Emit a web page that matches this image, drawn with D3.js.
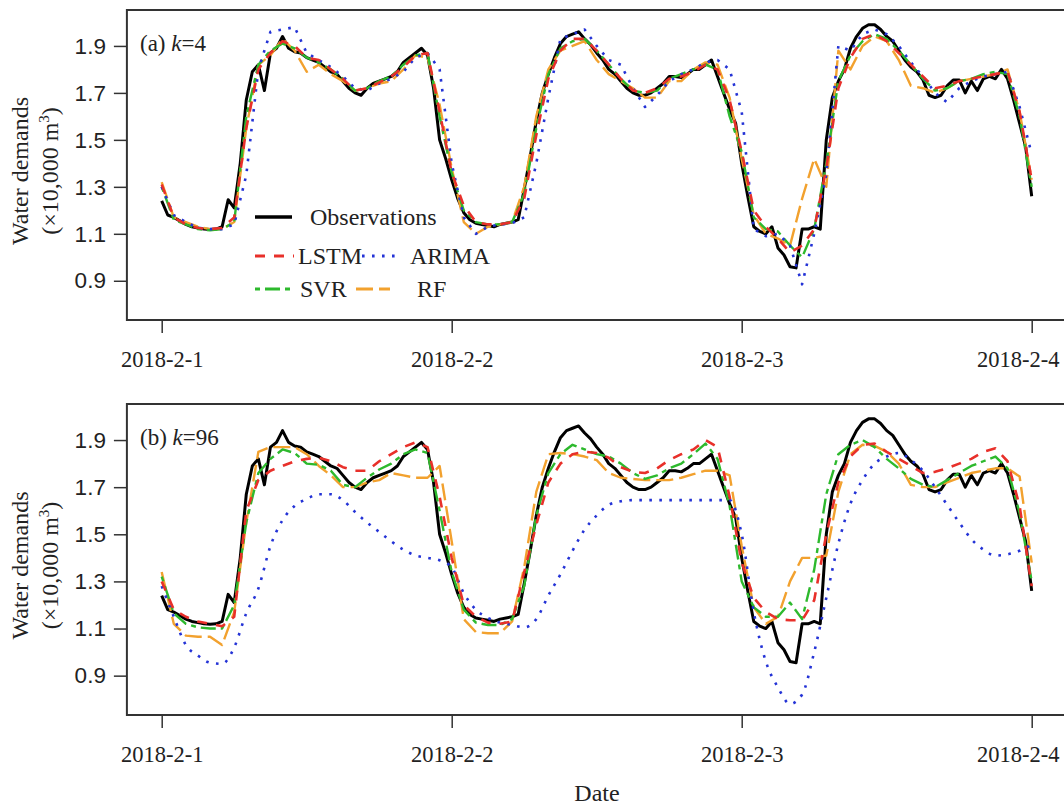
<!DOCTYPE html>
<html><head><meta charset="utf-8">
<script src="https://cdn.jsdelivr.net/npm/d3@7"></script>
<style>body{margin:0;background:#fff}</style>
</head><body>
<svg id="c" width="1064" height="807"></svg>
<script>
// ---------------- DATA ----------------
const dateLabels = ["2018-2-1","2018-2-2","2018-2-3","2018-2-4"];
const dateTickHours = [0,24,48,72];
const yTicks = [0.9,1.1,1.3,1.5,1.7,1.9];
const seriesNames = ["Observations","LSTM","ARIMA","SVR","RF"];
// observations: every 30 min from 2018-2-1 00:00
const obsStep = 0.5;
const observations = [
1.24,1.18,1.17,1.155,1.14,1.13,1.125,1.12,1.118,1.12,1.13,1.245,1.21,1.40,1.67,1.79,1.82,1.71,1.87,1.89,
1.94,1.89,1.875,1.87,1.85,1.84,1.83,1.81,1.79,1.78,1.75,1.72,1.70,1.69,1.72,1.74,1.75,1.76,1.77,1.79,
1.83,1.85,1.87,1.89,1.86,1.72,1.50,1.42,1.33,1.25,1.19,1.16,1.145,1.14,1.135,1.13,1.14,1.145,1.15,1.16,
1.29,1.43,1.58,1.70,1.78,1.85,1.91,1.94,1.95,1.96,1.93,1.905,1.87,1.84,1.80,1.78,1.75,1.72,1.70,1.69,
1.69,1.70,1.72,1.74,1.77,1.77,1.765,1.78,1.80,1.80,1.82,1.84,1.77,1.70,1.63,1.57,1.40,1.26,1.13,1.11,
1.10,1.13,1.04,1.01,0.96,0.955,1.12,1.12,1.13,1.12,1.50,1.68,1.75,1.80,1.89,1.94,1.975,1.99,1.99,1.97,
1.94,1.92,1.88,1.84,1.81,1.79,1.755,1.69,1.68,1.69,1.73,1.755,1.755,1.70,1.75,1.71,1.76,1.77,1.76,1.80,
1.76,1.67,1.57,1.47,1.26];
// model predictions: hourly
const modelStep = 1;
// (a) k=4
const lstmA = [1.31,1.17,1.14,1.125,1.12,1.125,1.17,1.55,1.80,1.87,1.92,1.90,1.85,1.84,1.80,1.76,1.71,1.72,1.745,1.77,
1.81,1.86,1.87,1.62,1.36,1.22,1.15,1.14,1.14,1.15,1.25,1.52,1.76,1.88,1.93,1.93,1.88,1.82,1.76,1.71,
1.70,1.72,1.76,1.77,1.79,1.82,1.80,1.67,1.45,1.20,1.13,1.08,1.02,1.05,1.12,1.38,1.72,1.85,1.93,1.95,
1.92,1.87,1.82,1.77,1.72,1.73,1.75,1.76,1.77,1.78,1.79,1.62,1.33];
const arimaA = [1.30,1.18,1.15,1.125,1.12,1.12,1.14,1.35,1.80,1.96,1.97,1.98,1.87,1.84,1.81,1.77,1.72,1.71,1.74,1.76,
1.79,1.85,1.87,1.80,1.40,1.17,1.10,1.13,1.14,1.145,1.17,1.40,1.68,1.93,1.95,1.97,1.90,1.84,1.82,1.72,
1.64,1.69,1.75,1.78,1.80,1.83,1.84,1.80,1.62,1.12,1.09,1.10,1.05,0.885,1.10,1.35,1.90,1.88,1.95,1.97,
1.95,1.90,1.83,1.77,1.70,1.66,1.72,1.75,1.77,1.78,1.79,1.64,1.44];
const svrA = [1.30,1.16,1.14,1.12,1.115,1.12,1.15,1.60,1.82,1.88,1.91,1.89,1.85,1.83,1.80,1.76,1.71,1.72,1.75,1.77,
1.82,1.86,1.87,1.60,1.36,1.20,1.15,1.14,1.14,1.15,1.27,1.55,1.78,1.89,1.92,1.93,1.88,1.82,1.76,1.71,
1.70,1.71,1.76,1.78,1.80,1.82,1.80,1.60,1.45,1.17,1.12,1.11,1.05,1.00,1.12,1.40,1.75,1.86,1.92,1.95,
1.93,1.88,1.82,1.76,1.71,1.72,1.75,1.76,1.78,1.79,1.78,1.60,1.30];
const rfA = [1.32,1.17,1.15,1.13,1.12,1.12,1.15,1.55,1.82,1.86,1.93,1.88,1.79,1.82,1.78,1.75,1.71,1.72,1.74,1.75,
1.80,1.86,1.85,1.65,1.38,1.15,1.10,1.13,1.14,1.15,1.30,1.60,1.80,1.88,1.90,1.92,1.84,1.78,1.75,1.72,
1.68,1.68,1.75,1.75,1.80,1.83,1.82,1.68,1.42,1.18,1.10,1.08,1.05,1.25,1.42,1.30,1.88,1.80,1.90,1.94,
1.92,1.84,1.73,1.72,1.70,1.72,1.75,1.76,1.77,1.78,1.80,1.62,1.33];
// (b) k=96
const lstmB = [1.30,1.18,1.15,1.13,1.12,1.11,1.15,1.60,1.73,1.77,1.79,1.81,1.82,1.825,1.81,1.785,1.77,1.77,1.81,1.84,
1.87,1.89,1.87,1.66,1.40,1.20,1.15,1.125,1.12,1.13,1.34,1.54,1.72,1.80,1.84,1.85,1.845,1.825,1.785,1.765,
1.76,1.78,1.815,1.84,1.86,1.90,1.87,1.66,1.38,1.23,1.17,1.14,1.135,1.135,1.22,1.50,1.72,1.83,1.88,1.885,
1.85,1.82,1.79,1.76,1.765,1.78,1.80,1.82,1.85,1.865,1.81,1.62,1.28];
const arimaB = [1.28,1.15,1.03,0.985,0.955,0.95,1.02,1.165,1.27,1.45,1.56,1.62,1.65,1.67,1.67,1.645,1.595,1.55,1.51,1.47,
1.435,1.41,1.40,1.39,1.36,1.25,1.18,1.145,1.125,1.115,1.105,1.14,1.24,1.33,1.43,1.52,1.58,1.625,1.64,1.645,
1.645,1.645,1.645,1.645,1.645,1.645,1.645,1.645,1.50,1.17,0.96,0.85,0.78,0.82,1.00,1.23,1.46,1.63,1.73,1.80,
1.83,1.845,1.815,1.77,1.70,1.625,1.55,1.48,1.435,1.41,1.415,1.43,1.455];
const svrB = [1.32,1.165,1.12,1.105,1.10,1.10,1.20,1.55,1.76,1.82,1.86,1.845,1.80,1.795,1.77,1.71,1.70,1.74,1.775,1.80,
1.84,1.86,1.845,1.60,1.34,1.18,1.125,1.115,1.115,1.14,1.28,1.58,1.76,1.84,1.88,1.86,1.84,1.83,1.80,1.76,
1.735,1.75,1.78,1.80,1.84,1.885,1.82,1.62,1.30,1.19,1.15,1.15,1.21,1.14,1.35,1.67,1.84,1.88,1.90,1.87,
1.82,1.78,1.735,1.71,1.70,1.73,1.76,1.79,1.81,1.83,1.78,1.59,1.30];
const rfB = [1.34,1.12,1.07,1.065,1.065,1.03,1.17,1.55,1.85,1.87,1.87,1.87,1.84,1.79,1.75,1.70,1.70,1.72,1.73,1.76,
1.75,1.74,1.74,1.79,1.47,1.14,1.085,1.08,1.08,1.13,1.36,1.68,1.84,1.845,1.84,1.83,1.815,1.76,1.74,1.735,
1.73,1.73,1.73,1.74,1.755,1.77,1.77,1.75,1.45,1.19,1.12,1.15,1.30,1.40,1.40,1.41,1.68,1.84,1.88,1.875,
1.85,1.80,1.71,1.70,1.70,1.72,1.74,1.76,1.77,1.78,1.78,1.745,1.38];

// ---------------- DRAW ----------------
const svg = d3.select("#c");
svg.append("rect").attr("width",1064).attr("height",807).attr("fill","#fff");
const serif = "'Liberation Serif','Times New Roman',serif";
const sans = "'Liberation Sans',Arial,sans-serif";

const x = d3.scaleLinear().domain([0,72]).range([161.7,1031.7]);
const xLeft = x(-72*0.04), xRight = x(72*1.04);

const styles = {
  Observations:{color:"#000000", width:3, dash:null},
  LSTM:{color:"#e8302a", width:2.6, dash:"10,9"},
  ARIMA:{color:"#2433d6", width:2.6, dash:"2.6,7.4"},
  SVR:{color:"#2db92d", width:2.4, dash:"5,5,15,5"},
  RF:{color:"#f2a12e", width:2.4, dash:"17,6"}
};

const panels = [
  {top:10, bottom:320, label:"(a) ", k:"4", models:{LSTM:lstmA, ARIMA:arimaA, SVR:svrA, RF:rfA}, legend:true},
  {top:404, bottom:715, label:"(b) ", k:"96", models:{LSTM:lstmB, ARIMA:arimaB, SVR:svrB, RF:rfB}, legend:false}
];

panels.forEach(p => {
  const y = d3.scaleLinear().domain([0.733,2.053]).range([p.bottom,p.top]);
  const g = svg.append("g");
  const clipId = "clip"+p.top;
  g.append("clipPath").attr("id",clipId).append("rect")
    .attr("x",xLeft).attr("y",p.top).attr("width",xRight-xLeft).attr("height",p.bottom-p.top);

  const lines = g.append("g").attr("clip-path",`url(#${clipId})`);
  const drawSeries = (vals, step, name, curve) => {
    const st = styles[name];
    const line = d3.line().x((d,i)=>x(i*step)).y(d=>y(d)).curve(curve||d3.curveLinear);
    lines.append("path").datum(vals).attr("d",line)
      .attr("fill","none").attr("stroke",st.color).attr("stroke-width",st.width)
      .attr("stroke-dasharray",st.dash).attr("stroke-linejoin","round");
  };
  drawSeries(observations, obsStep, "Observations");
  ["RF","SVR","ARIMA","LSTM"].forEach(n => {
    const smooth = (n==="ARIMA" && p.top>100) ? d3.curveMonotoneX : d3.curveLinear;
    drawSeries(p.models[n], modelStep, n, smooth);
  });

  // box
  g.append("rect").attr("x",xLeft).attr("y",p.top).attr("width",xRight-xLeft).attr("height",p.bottom-p.top)
    .attr("fill","none").attr("stroke","#333").attr("stroke-width",2);

  // y axis
  const ya = d3.axisLeft(y).tickValues(yTicks).tickFormat(d3.format(".1f")).tickSize(13).tickPadding(8);
  const yg = g.append("g").attr("transform",`translate(${xLeft},0)`).call(ya);
  yg.select(".domain").remove();
  yg.selectAll(".tick line").attr("stroke","#333").attr("stroke-width",1.5);
  yg.selectAll(".tick text").attr("font-family",sans).attr("font-size",22.5).attr("fill","#222");

  // x axis
  const xa = d3.axisBottom(x).tickValues(dateTickHours).tickFormat((d,i)=>dateLabels[i]).tickSize(13).tickPadding(18);
  const xg = g.append("g").attr("transform",`translate(0,${p.bottom})`).call(xa);
  xg.select(".domain").remove();
  xg.selectAll(".tick line").attr("stroke","#333").attr("stroke-width",1.5);
  xg.selectAll(".tick text").attr("font-family",serif).attr("font-size",22.5).attr("fill","#222")
    .attr("dx",(d,i)=> i===dateLabels.length-1 ? -14 : 0);

  // panel label
  const lt = g.append("text").attr("x",140).attr("y",p.top+41).attr("font-family",serif).attr("font-size",23).attr("fill","#222");
  lt.append("tspan").text(p.label);
  lt.append("tspan").attr("font-style","italic").text("k");
  lt.append("tspan").text("=" + p.k);

  // y title
  const cy = (p.top+p.bottom)/2 + 6;
  g.append("text").attr("transform",`translate(28,${cy}) rotate(-90)`).attr("text-anchor","middle")
    .attr("font-family",serif).attr("font-size",24).attr("fill","#222").text("Water demands");
  const t2 = g.append("text").attr("transform",`translate(58,${cy}) rotate(-90)`).attr("text-anchor","middle")
    .attr("font-family",serif).attr("font-size",24).attr("fill","#222");
  t2.append("tspan").text("(\u00d710,000 m");
  t2.append("tspan").attr("dy",-9).attr("font-size",15).text("3");
  t2.append("tspan").attr("dy",9).text(")");

  if (p.legend) {
    const items = [
      {n:"Observations", x1:255, x2:292, y:217, tx:310},
      {n:"LSTM", x1:255, x2:294, y:256, tx:298},
      {n:"ARIMA", x1:362, x2:401, y:256, tx:410},
      {n:"SVR", x1:255, x2:294, y:289, tx:300},
      {n:"RF", x1:356, x2:390, y:289, tx:417}
    ];
    const lg = g.append("g");
    items.forEach(it => {
      const st = styles[it.n];
      lg.append("line").attr("x1",it.x1).attr("x2",it.x2).attr("y1",it.y).attr("y2",it.y)
        .attr("stroke",st.color).attr("stroke-width",st.width+0.4).attr("stroke-dasharray",st.dash);
      lg.append("text").attr("x",it.tx).attr("y",it.y+8).attr("font-family",serif).attr("font-size",24)
        .attr("fill","#222").text(it.n);
    });
  }
});

svg.append("text").attr("x",597).attr("y",801).attr("text-anchor","middle")
  .attr("font-family",serif).attr("font-size",24).attr("fill","#222").text("Date");
</script>
</body></html>
